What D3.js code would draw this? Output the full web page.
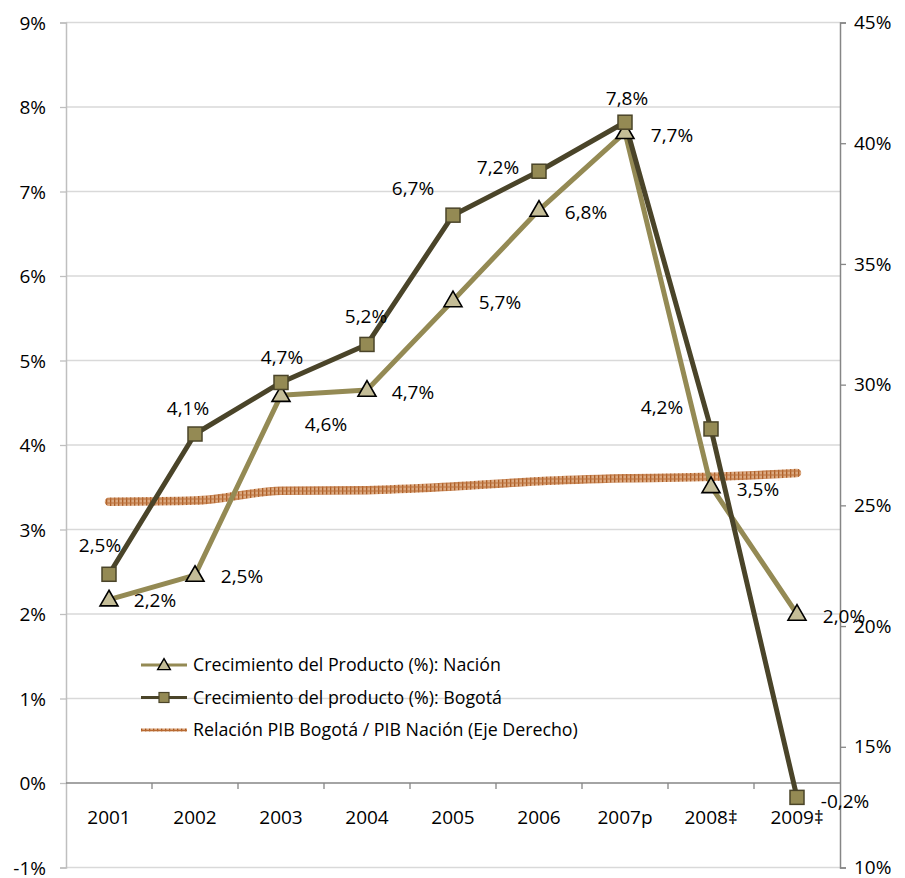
<!DOCTYPE html>
<html>
<head>
<meta charset="utf-8">
<script src="https://cdn.jsdelivr.net/npm/d3@7"></script>
<style>
  body { margin: 0; background: #fff; }
  svg text { font-family: "Open Sans", sans-serif; fill: #000; }
</style>
</head>
<body>
<svg id="chart"></svg>
<script>
// data
const years = ['2001', '2002', '2003', '2004', '2005', '2006', '2007p', '2008\u2021', '2009\u2021'];
const nacion = [2.17, 2.46, 4.59, 4.65, 5.71, 6.78, 7.70, 3.51, 2.00];
const bogota = [2.47, 4.13, 4.74, 5.19, 6.72, 7.24, 7.82, 4.19, -0.17];
const relacion = [25.15, 25.2, 25.6, 25.63, 25.78, 26.0, 26.12, 26.18, 26.34];
const leftTicks = [-1, 0, 1, 2, 3, 4, 5, 6, 7, 8, 9];
const rightTicks = [10, 15, 20, 25, 30, 35, 40, 45];
const legendNames = [
  'Crecimiento del Producto (%): Nación',
  'Crecimiento del producto (%): Bogotá',
  'Relación PIB Bogotá / PIB Nación (Eje Derecho)'
];

// label placement (Excel put each label by hand)
const nacionLabelOff = [[46, 1], [47, 1], [45, 29], [46, 2], [47, 2], [47, 2], [47, 3], [47, 3], [47, 2]];
const bogotaLabelOff = [[-9, -29], [-7, -26], [1, -25], [-1, -28], [-40, -27], [-41, -4], [2, -24], [-49, -22], [48, 4]];

const W = 905, H = 878;
const margin = { top: 22.5, right: 65, bottom: 10.5, left: 66 };
const width = W - margin.left - margin.right;
const height = H - margin.top - margin.bottom;

const svg = d3.select('#chart').attr('width', W).attr('height', H);
const g = svg.append('g').attr('transform', `translate(${margin.left},${margin.top})`);

const x = d3.scaleBand().domain(years).range([0, width]);
const cx = d => x(d) + x.bandwidth() / 2;
const y = d3.scaleLinear().domain([-1, 9]).range([height, 0]);
const y2 = d3.scaleLinear().domain([10, 45]).range([height, 0]);

const loc = d3.formatLocale({ decimal: ',', thousands: '.', grouping: [3], currency: ['', ''], minus: '-' });
const fmt = v => loc.format('.1f')(v) + '%';
const fmtTick = v => loc.format('d')(v) + '%';

// pattern for the ratio line
const defs = svg.append('defs');
const pat = defs.append('pattern').attr('id', 'hatch')
  .attr('patternUnits', 'userSpaceOnUse').attr('width', 4).attr('height', 4);
pat.append('rect').attr('width', 4).attr('height', 4).attr('fill', '#d9a47a');
pat.append('rect').attr('x', 0).attr('width', 1.3).attr('height', 4).attr('fill', '#a8541a');
pat.append('rect').attr('y', 0).attr('width', 4).attr('height', 1).attr('fill', '#b86a32');

// gridlines
g.append('g').selectAll('line').data(leftTicks.filter(t => t !== 0)).join('line')
  .attr('x1', 0).attr('x2', width)
  .attr('y1', d => y(d)).attr('y2', d => y(d))
  .attr('stroke', '#d9d9d9').attr('stroke-width', 1.3);

// left axis
const yAxis = g.append('g')
  .call(d3.axisLeft(y).tickValues(leftTicks).tickFormat(fmtTick).tickSize(6).tickPadding(14));
yAxis.select('.domain').attr('stroke', '#bfbfbf').attr('stroke-width', 1.5);
yAxis.selectAll('.tick line').attr('stroke', '#bfbfbf').attr('stroke-width', 1.3);
yAxis.selectAll('text').style('font-size', '19px').attr('dy', '0.35em');

// right axis
const y2Axis = g.append('g').attr('transform', `translate(${width},0)`)
  .call(d3.axisRight(y2).tickValues(rightTicks).tickFormat(fmtTick).tickSize(6).tickPadding(8));
y2Axis.select('.domain').attr('stroke', '#868686').attr('stroke-width', 1.5);
y2Axis.selectAll('.tick line').attr('stroke', '#868686').attr('stroke-width', 1.3);
y2Axis.selectAll('text').style('font-size', '19px');

// category axis at 0%
const xAxis = g.append('g').attr('transform', `translate(0,${y(0)})`)
  .call(d3.axisBottom(x).tickSize(0).tickPadding(28));
xAxis.select('.domain').remove();
xAxis.selectAll('text').style('font-size', '19px');
g.append('line').attr('x1', 0).attr('x2', width).attr('y1', y(0)).attr('y2', y(0))
  .attr('stroke', '#868686').attr('stroke-width', 1.5);
g.append('g').selectAll('line').data(years.slice(1)).join('line')
  .attr('x1', d => x(d)).attr('x2', d => x(d))
  .attr('y1', y(0)).attr('y2', y(0) + 6)
  .attr('stroke', '#868686').attr('stroke-width', 1.3);

// ratio line (right axis)
g.append('path').datum(relacion)
  .attr('d', d3.line().x((d, i) => cx(years[i])).y(d => y2(d)).curve(d3.curveMonotoneX))
  .attr('fill', 'none').attr('stroke', 'url(#hatch)').attr('stroke-width', 8.5)
  .attr('stroke-linecap', 'round').attr('opacity', 0.95);

const line = d3.line().x((d, i) => cx(years[i])).y(d => y(d));

// Nación
g.append('path').datum(nacion).attr('d', line)
  .attr('fill', 'none').attr('stroke', '#948a54').attr('stroke-width', 5).attr('stroke-linejoin', 'round');
// Bogotá
g.append('path').datum(bogota).attr('d', line)
  .attr('fill', 'none').attr('stroke', '#4a4429').attr('stroke-width', 5).attr('stroke-linejoin', 'round');

const tri = d3.symbol().type(d3.symbolTriangle).size(140);

g.append('g').selectAll('path').data(nacion).join('path')
  .attr('d', tri)
  .attr('transform', (d, i) => `translate(${cx(years[i])},${y(d) + 1})`)
  .attr('fill', '#c4bd97').attr('stroke', '#000').attr('stroke-width', 1.6);

g.append('g').selectAll('rect').data(bogota).join('rect')
  .attr('x', (d, i) => cx(years[i]) - 7).attr('y', d => y(d) - 7)
  .attr('width', 14).attr('height', 14)
  .attr('fill', '#948a54').attr('stroke', '#4a4429').attr('stroke-width', 1.5);

// data labels
g.append('g').selectAll('text').data(nacion).join('text')
  .attr('x', (d, i) => cx(years[i]) + nacionLabelOff[i][0])
  .attr('y', (d, i) => y(d) + nacionLabelOff[i][1])
  .attr('text-anchor', 'middle').attr('dy', '0.35em')
  .style('font-size', '19px').text(fmt);

g.append('g').selectAll('text').data(bogota).join('text')
  .attr('x', (d, i) => cx(years[i]) + bogotaLabelOff[i][0])
  .attr('y', (d, i) => y(d) + bogotaLabelOff[i][1])
  .attr('text-anchor', 'middle').attr('dy', '0.35em')
  .style('font-size', '19px').text(fmt);

// legend
const leg = svg.append('g').attr('transform', 'translate(141,665)');
const rows = leg.selectAll('g').data(legendNames).join('g')
  .attr('transform', (d, i) => `translate(0,${i * 32.5})`);
rows.append('text').attr('x', 52).attr('dy', '0.35em').style('font-size', '17.8px').text(d => d);
rows.filter((d, i) => i === 0).append('line')
  .attr('x1', 0).attr('x2', 46).attr('stroke', '#948a54').attr('stroke-width', 3);
rows.filter((d, i) => i === 0).append('path')
  .attr('d', d3.symbol().type(d3.symbolTriangle).size(70))
  .attr('transform', 'translate(23,1)')
  .attr('fill', '#c4bd97').attr('stroke', '#000').attr('stroke-width', 1.4);
rows.filter((d, i) => i === 1).append('line')
  .attr('x1', 0).attr('x2', 46).attr('stroke', '#4a4429').attr('stroke-width', 3);
rows.filter((d, i) => i === 1).append('rect')
  .attr('x', 18).attr('y', -5).attr('width', 10).attr('height', 10)
  .attr('fill', '#948a54').attr('stroke', '#4a4429').attr('stroke-width', 1.2);
rows.filter((d, i) => i === 2).append('line')
  .attr('x1', 0).attr('x2', 46).attr('stroke', 'url(#hatch)').attr('stroke-width', 3);
</script>
</body>
</html>
